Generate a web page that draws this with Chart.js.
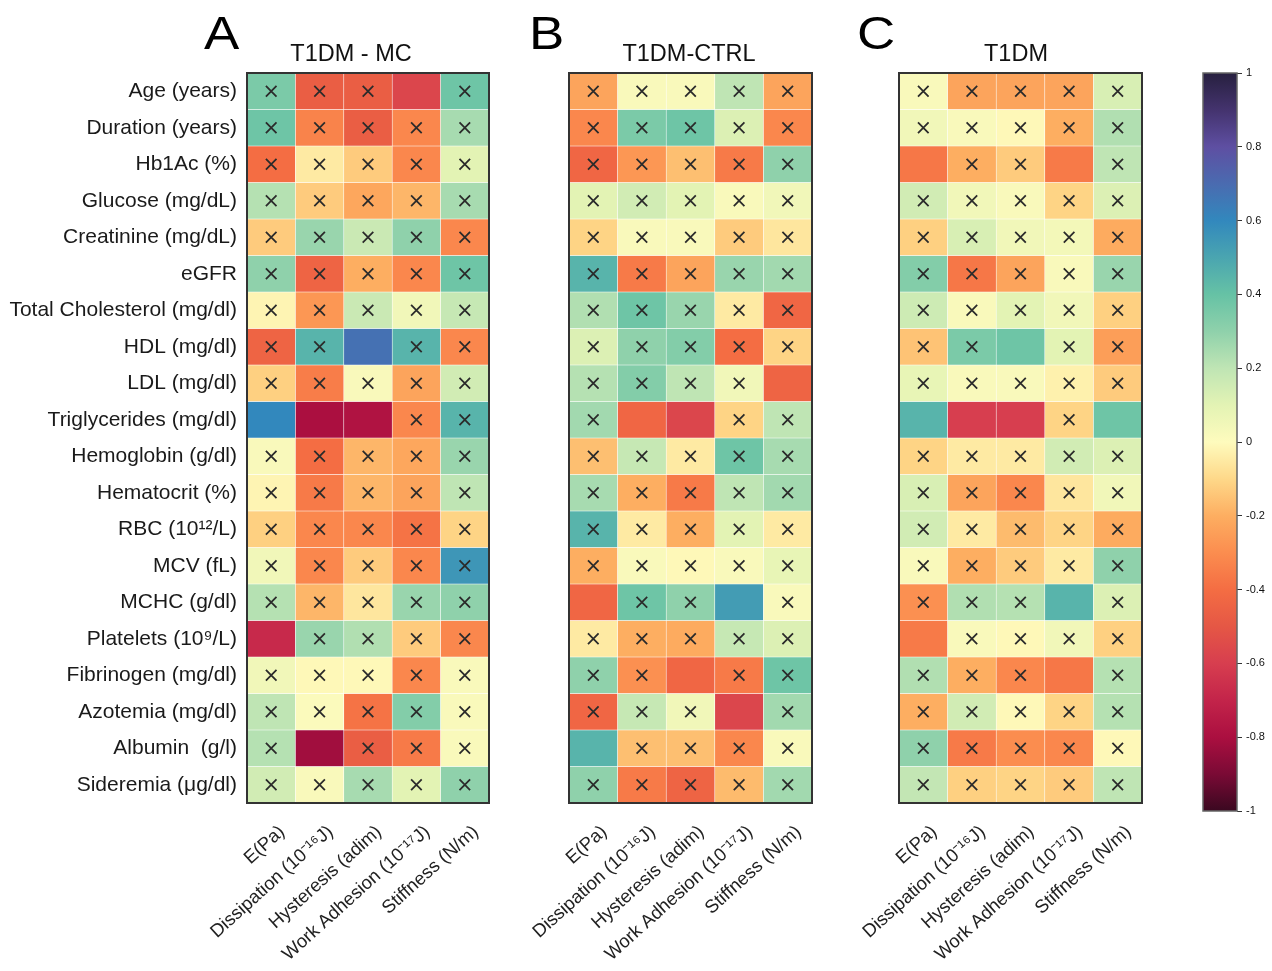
<!DOCTYPE html>
<html>
<head>
<meta charset="utf-8">
<script src="https://cdn.jsdelivr.net/npm/chart.js"></script>
<style>
  body { margin: 0; background: #fff; }
  #page { position: relative; width: 1272px; height: 971px; overflow: hidden; }
  .panel { position: absolute; top: 0; height: 971px; }
  .letter { position: absolute; top: 10px; font: 46px/46px "Liberation Sans", Arial, sans-serif; color: #000;
            transform: scaleX(1.15); transform-origin: left top; }
  .title { position: absolute; top: 40px; width: 300px; text-align: center;
           font: 23.5px/26px "Liberation Sans", Arial, sans-serif; color: #111; }
</style>
</head>
<body>
<div id="page">
  <div class="panel" style="left:0;width:500px"><canvas id="chartA"></canvas></div>
  <div class="panel" style="left:500px;width:330px"><canvas id="chartB"></canvas></div>
  <div class="panel" style="left:830px;width:330px"><canvas id="chartC"></canvas></div>
  <div class="panel" style="left:1180px;width:92px"><canvas id="colorbar"></canvas></div>
  <div class="letter" style="left:204px">A</div>
  <div class="letter" style="left:529px">B</div>
  <div class="letter" style="left:857px">C</div>
  <div class="title" style="left:201px">T1DM - MC</div>
  <div class="title" style="left:539px">T1DM-CTRL</div>
  <div class="title" style="left:866px">T1DM</div>
</div>
<script>
const rowLabels = [
  'Age (years)', 'Duration (years)', 'Hb1Ac (%)', 'Glucose (mg/dL)', 'Creatinine (mg/dL)',
  'eGFR', 'Total Cholesterol (mg/dl)', 'HDL (mg/dl)', 'LDL (mg/dl)', 'Triglycerides (mg/dl)',
  'Hemoglobin (g/dl)', 'Hematocrit (%)', 'RBC (10¹²/L)', 'MCV (fL)', 'MCHC (g/dl)',
  'Platelets (10⁹/L)', 'Fibrinogen (mg/dl)', 'Azotemia (mg/dl)', 'Albumin  (g/l)', 'Sideremia (μg/dl)'
];
const colLabels = ['E(Pa)', 'Dissipation (10⁻¹⁶J)', 'Hysteresis (adim)', 'Work Adhesion (10⁻¹⁷J)', 'Stiffness (N/m)'];

// correlation values, one row per parameter, columns as colLabels
const valuesA = [
  [0.35, -0.47, -0.47, -0.57, 0.38],
  [0.38, -0.33, -0.47, -0.32, 0.25],
  [-0.40, -0.05, -0.13, -0.32, 0.10],
  [0.22, -0.13, -0.22, -0.18, 0.25],
  [-0.13, 0.28, 0.17, 0.30, -0.32],
  [0.30, -0.44, -0.20, -0.32, 0.38],
  [-0.02, -0.27, 0.17, 0.05, 0.18],
  [-0.44, 0.45, 0.68, 0.45, -0.32],
  [-0.12, -0.35, 0.02, -0.23, 0.15],
  [0.60, -0.80, -0.78, -0.32, 0.45],
  [0.02, -0.40, -0.18, -0.22, 0.28],
  [-0.02, -0.36, -0.18, -0.23, 0.20],
  [-0.12, -0.32, -0.32, -0.38, -0.11],
  [0.05, -0.32, -0.13, -0.32, 0.55],
  [0.22, -0.18, -0.06, 0.28, 0.30],
  [-0.68, 0.28, 0.23, -0.13, -0.32],
  [0.05, -0.01, -0.01, -0.32, 0.02],
  [0.20, 0.01, -0.38, 0.33, 0.02],
  [0.22, -0.82, -0.47, -0.36, 0.02],
  [0.15, 0.02, 0.25, 0.10, 0.30]
];
const valuesB = [
  [-0.23, 0.02, 0.02, 0.20, -0.23],
  [-0.32, 0.35, 0.38, 0.12, -0.32],
  [-0.43, -0.27, -0.16, -0.36, 0.30],
  [0.10, 0.15, 0.10, 0.02, 0.05],
  [-0.11, 0.02, 0.02, -0.13, -0.06],
  [0.45, -0.36, -0.23, 0.28, 0.26],
  [0.23, 0.38, 0.28, -0.05, -0.43],
  [0.12, 0.30, 0.33, -0.40, -0.11],
  [0.22, 0.33, 0.20, 0.05, -0.44],
  [0.26, -0.43, -0.57, -0.11, 0.20],
  [-0.16, 0.18, -0.05, 0.38, 0.25],
  [0.25, -0.20, -0.36, 0.20, 0.26],
  [0.45, -0.05, -0.20, 0.10, -0.05],
  [-0.20, 0.02, -0.01, 0.02, 0.08],
  [-0.43, 0.38, 0.30, 0.53, 0.02],
  [-0.05, -0.20, -0.21, 0.18, 0.12],
  [0.30, -0.29, -0.43, -0.36, 0.38],
  [-0.43, 0.18, 0.05, -0.57, 0.26],
  [0.45, -0.16, -0.16, -0.32, 0.02],
  [0.30, -0.36, -0.44, -0.17, 0.26]
];
const valuesC = [
  [0.02, -0.23, -0.23, -0.23, 0.13],
  [0.05, 0.02, -0.01, -0.20, 0.23],
  [-0.37, -0.20, -0.13, -0.36, 0.20],
  [0.15, 0.05, 0.02, -0.11, 0.12],
  [-0.12, 0.13, 0.05, 0.04, -0.21],
  [0.33, -0.37, -0.23, 0.02, 0.28],
  [0.16, 0.02, 0.10, 0.05, -0.12],
  [-0.15, 0.35, 0.38, 0.10, -0.25],
  [0.08, 0.02, 0.02, -0.03, -0.13],
  [0.45, -0.60, -0.60, -0.11, 0.38],
  [-0.11, -0.05, -0.05, 0.15, 0.12],
  [0.13, -0.23, -0.32, -0.06, 0.05],
  [0.15, -0.05, -0.17, -0.11, -0.21],
  [0.02, -0.20, -0.13, -0.05, 0.30],
  [-0.29, 0.23, 0.22, 0.45, 0.12],
  [-0.36, 0.02, -0.01, 0.05, -0.12],
  [0.23, -0.20, -0.32, -0.37, 0.22],
  [-0.20, 0.15, -0.01, -0.11, 0.22],
  [0.30, -0.36, -0.30, -0.32, -0.01],
  [0.19, -0.12, -0.11, -0.13, 0.20]
];

// cells drawn without a cross: [row, col]
const unmarkedA = [[0, 3], [7, 2], [9, 0], [9, 1], [9, 2], [15, 0], [18, 1]];
const unmarkedB = [[8, 4], [9, 1], [9, 2], [14, 0], [14, 3], [16, 2], [17, 3], [18, 0]];
const unmarkedC = [[2, 0], [2, 3], [7, 2], [9, 0], [9, 1], [9, 2], [9, 4], [14, 3], [15, 0], [16, 3]];

const colorbarTicks = [-1, -0.8, -0.6, -0.4, -0.2, 0, 0.2, 0.4, 0.6, 0.8, 1];

const colorStops = [
  [-1.0, '#3a0820'], [-0.9, '#7a0a35'], [-0.8, '#ab0f40'], [-0.7, '#c3244a'],
  [-0.6, '#d73e4f'], [-0.5, '#e55745'], [-0.4, '#f46d43'], [-0.3, '#fb8d4f'],
  [-0.2, '#fdae61'], [-0.1, '#fed889'], [0.0, '#fefbbd'], [0.1, '#e3f3b4'],
  [0.2, '#bfe5b4'], [0.3, '#8fd1ab'], [0.4, '#66c2a5'], [0.5, '#4aa5b0'],
  [0.6, '#3288bd'], [0.7, '#4a6bb0'], [0.8, '#5e4fa2'], [0.9, '#44336e'], [1.0, '#27203f']
];

const FONT = '"Liberation Sans", Arial, sans-serif';

function hexToRgb(h) {
  return [parseInt(h.slice(1, 3), 16), parseInt(h.slice(3, 5), 16), parseInt(h.slice(5, 7), 16)];
}

function colorFor(v) {
  for (let i = 1; i < colorStops.length; i++) {
    if (v <= colorStops[i][0]) {
      const [v0, c0] = colorStops[i - 1];
      const [v1, c1] = colorStops[i];
      const t = (v - v0) / (v1 - v0);
      const a = hexToRgb(c0), b = hexToRgb(c1);
      const rgb = a.map((x, k) => Math.round(x + (b[k] - x) * t));
      return `rgb(${rgb.join(',')})`;
    }
  }
  return colorStops[colorStops.length - 1][1];
}

// draws the dark frame round the plot area
const frame = {
  id: 'frame',
  afterDatasetsDraw(chart, args, opts) {
    const { ctx, chartArea: a } = chart;
    ctx.save();
    ctx.strokeStyle = opts.color;
    ctx.lineWidth = opts.width;
    ctx.strokeRect(a.left, a.top, a.right - a.left, a.bottom - a.top);
    ctx.restore();
  }
};

function makePanel(id, values, unmarked, showRows, padLeft, padRight) {
  const datasets = values.map((row, r) => ({
    type: 'bar',
    data: colLabels.map(() => [r, r + 1]),
    backgroundColor: row.map(colorFor),
    borderColor: 'rgba(255,255,255,0.35)',
    borderWidth: 0.6,
    borderSkipped: false
  }));

  const crosses = [];
  values.forEach((row, r) => {
    row.forEach((v, c) => {
      if (!unmarked.some(([ur, uc]) => ur === r && uc === c)) {
        crosses.push({ x: colLabels[c], y: r + 0.5 });
      }
    });
  });
  datasets.push({
    type: 'scatter',
    order: -1,
    data: crosses,
    pointStyle: 'crossRot',
    pointRadius: 7.5,
    borderColor: '#2b2b2b',
    borderWidth: 1.8
  });

  return new Chart(document.getElementById(id), {
    type: 'bar',
    data: { labels: colLabels, datasets },
    plugins: [frame],
    options: {
      responsive: true,
      maintainAspectRatio: false,
      animation: false,
      layout: { padding: { left: padLeft, right: padRight, top: 73, bottom: 0 } },
      datasets: { bar: { grouped: false, barPercentage: 1, categoryPercentage: 1 } },
      plugins: {
        legend: { display: false },
        tooltip: { enabled: false },
        frame: { color: '#333', width: 2 }
      },
      scales: {
        x: {
          type: 'category',
          offset: true,
          grid: { display: false, drawTicks: false },
          border: { display: false },
          ticks: {
            color: '#222',
            font: { family: FONT, size: 18.5 },
            minRotation: 42,
            maxRotation: 42,
            padding: 18,
            labelOffset: 11,
            autoSkip: false
          },
          afterFit(scale) { scale.height = 168; }
        },
        y: {
          type: 'linear',
          display: showRows,
          min: 0,
          max: rowLabels.length,
          reverse: true,
          grid: { display: false, drawTicks: false },
          border: { display: false },
          afterBuildTicks(scale) {
            scale.ticks = rowLabels.map((_, i) => ({ value: i + 0.5 }));
          },
          ticks: {
            color: '#1a1a1a',
            font: { family: FONT, size: 21 },
            padding: 10,
            callback: (value, index) => rowLabels[index]
          },
          afterFit(scale) { if (showRows) scale.width = 247; }
        }
      }
    }
  });
}

makePanel('chartA', valuesA, unmarkedA, true, 0, 11);
makePanel('chartB', valuesB, unmarkedB, false, 69, 18);
makePanel('chartC', valuesC, unmarkedC, false, 69, 18);

new Chart(document.getElementById('colorbar'), {
  type: 'bar',
  data: {
    labels: [''],
    datasets: [{
      data: [[-1, 1]],
      borderWidth: 0,
      backgroundColor(ctx) {
        const chart = ctx.chart;
        if (!chart.chartArea) return '#fff';
        const y = chart.scales.y;
        const g = chart.ctx.createLinearGradient(0, y.getPixelForValue(-1), 0, y.getPixelForValue(1));
        colorStops.forEach(([v, c]) => g.addColorStop((v + 1) / 2, c));
        return g;
      }
    }]
  },
  plugins: [frame],
  options: {
    responsive: true,
    maintainAspectRatio: false,
    animation: false,
    layout: { padding: { left: 23, right: 0, top: 73, bottom: 160 } },
    datasets: { bar: { barPercentage: 1, categoryPercentage: 1 } },
    plugins: {
      legend: { display: false },
      tooltip: { enabled: false },
      frame: { color: '#666', width: 1.5 }
    },
    scales: {
      x: { display: false },
      y: {
        position: 'right',
        min: -1,
        max: 1,
        grid: { drawOnChartArea: false, tickLength: 5, color: '#333' },
        border: { display: false },
        afterBuildTicks(scale) {
          scale.ticks = colorbarTicks.map(v => ({ value: v }));
        },
        ticks: {
          color: '#111',
          font: { family: FONT, size: 11 },
          padding: 4,
          callback: value => String(value)
        },
        afterFit(scale) { scale.width = 35; }
      }
    }
  }
});
</script>
</body>
</html>
